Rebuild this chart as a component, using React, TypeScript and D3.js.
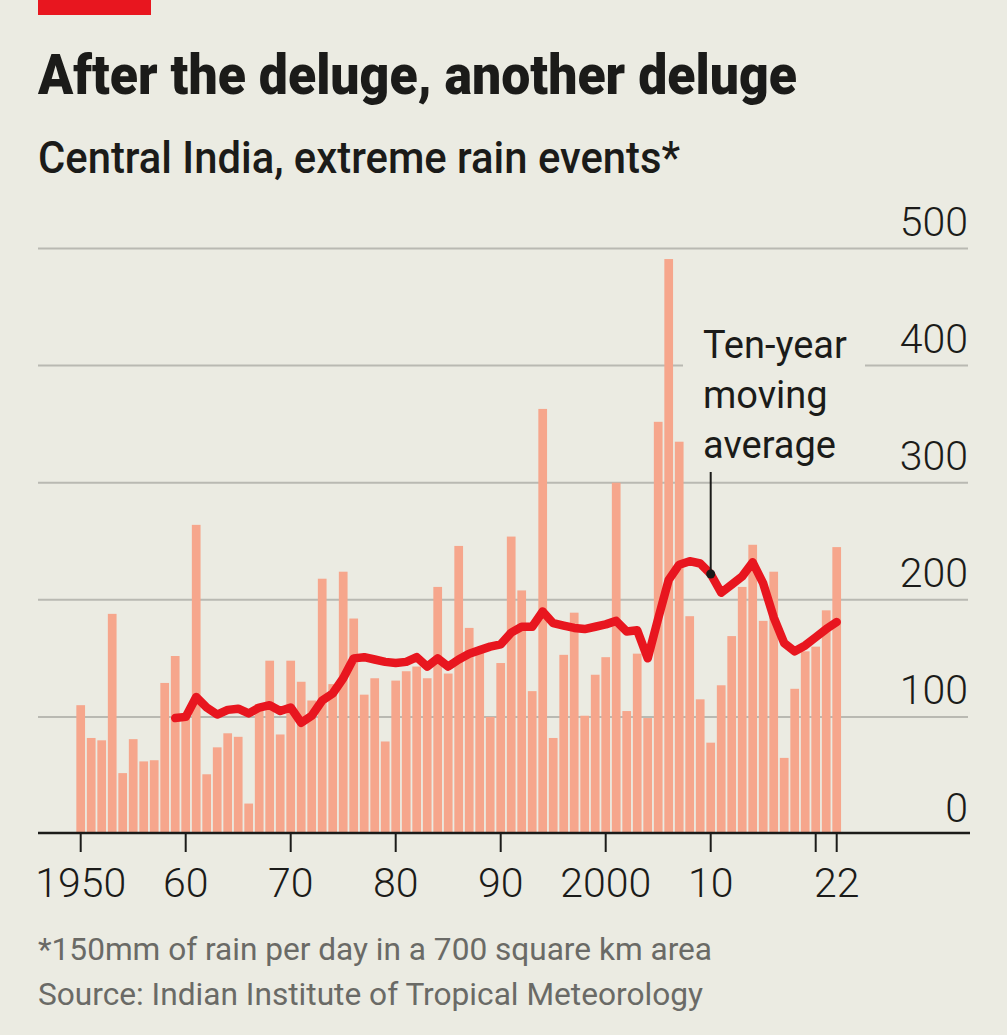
import React, { useEffect } from 'react';
import * as d3 from 'd3';

const years = [
  1950, 1951, 1952, 1953, 1954, 1955, 1956, 1957, 1958, 1959,
  1960, 1961, 1962, 1963, 1964, 1965, 1966, 1967, 1968, 1969,
  1970, 1971, 1972, 1973, 1974, 1975, 1976, 1977, 1978, 1979,
  1980, 1981, 1982, 1983, 1984, 1985, 1986, 1987, 1988, 1989,
  1990, 1991, 1992, 1993, 1994, 1995, 1996, 1997, 1998, 1999,
  2000, 2001, 2002, 2003, 2004, 2005, 2006, 2007, 2008, 2009,
  2010, 2011, 2012, 2013, 2014, 2015, 2016, 2017, 2018, 2019,
  2020, 2021, 2022,
];

const events = [
  110, 82, 80, 188, 52, 81, 62, 63, 129, 152,
  100, 264, 51, 74, 86, 83, 26, 111, 148, 85,
  148, 130, 114, 218, 128, 224, 184, 119, 133, 79,
  131, 139, 143, 133, 211, 137, 246, 176, 158, 100,
  146, 254, 208, 122, 363, 82, 153, 189, 101, 136,
  151, 300, 105, 154, 99, 352, 491, 335, 186, 115,
  78, 127, 169, 211, 247, 182, 224, 65, 124, 156,
  160, 191, 245,
];

const maYears = [
  1959, 1960, 1961, 1962, 1963, 1964, 1965, 1966, 1967, 1968,
  1969, 1970, 1971, 1972, 1973, 1974, 1975, 1976, 1977, 1978,
  1979, 1980, 1981, 1982, 1983, 1984, 1985, 1986, 1987, 1988,
  1989, 1990, 1991, 1992, 1993, 1994, 1995, 1996, 1997, 1998,
  1999, 2000, 2001, 2002, 2003, 2004, 2005, 2006, 2007, 2008,
  2009, 2010, 2011, 2012, 2013, 2014, 2015, 2016, 2017, 2018,
  2019, 2020, 2021, 2022,
];

const movingAvg = [
  99, 100, 117, 108, 102, 106, 107, 103, 108, 110,
  105, 108, 95, 101, 114, 120, 133, 150, 151, 149,
  147, 146, 147, 151, 143, 150, 143, 149, 154, 157,
  160, 162, 172, 177, 177, 190, 180, 178, 176, 175,
  177, 179, 182, 173, 174, 150, 184, 217, 230, 233,
  231, 222, 206, 213, 220, 232, 214, 185, 163, 156,
  161, 168, 175, 181,
];

const yTicks = [0, 100, 200, 300, 400, 500];
const xTicks = [1950, 1960, 1970, 1980, 1990, 2000, 2010, 2020, 2022];
const xTickLabels = ['1950', '60', '70', '80', '90', '2000', '10', '', '22'];

const title = 'After the deluge, another deluge';
const subtitle = 'Central India, extreme rain events*';
const footnote = '*150mm of rain per day in a 700 square km area';
const source = 'Source: Indian Institute of Tropical Meteorology';
const annotationLines = ['Ten-year', 'moving', 'average'];
const annotationYear = 2010;

const BG = '#ebebe2';
const BAR = '#f6a68c';
const RED = '#e8161f';
const INK = '#1b1b19';
const GREY = '#6a6a66';
const GRID = '#b9b9b2';
const FONT = "Roboto, 'Noto Sans', 'Liberation Sans', sans-serif";

export default function App() {
  useEffect(() => {
    document.body.style.margin = '0';
    document.body.style.background = BG;
  }, []);

  const W = 1007;
  const H = 1035;

  const x = d3.scaleLinear().domain([1950, 2022]).range([80.7, 836.7]);
  const xBand = d3
    .scaleBand<number>()
    .domain(years)
    .range([75.45, 841.95])
    .paddingInner(0.17)
    .paddingOuter(0.085);
  const y = d3.scaleLinear().domain([0, 500]).range([834, 248.5]);

  const maData = maYears.map((yr, i) => ({ yr, v: movingAvg[i] }));
  const line = d3
    .line<{ yr: number; v: number }>()
    .x((d) => x(d.yr))
    .y((d) => y(d.v))
    .curve(d3.curveLinear);

  const annIdx = maYears.indexOf(annotationYear);
  const annX = x(annotationYear);
  const annY = y(movingAvg[annIdx]);

  return (
    <svg
      width={W}
      height={H}
      viewBox={`0 0 ${W} ${H}`}
      style={{ position: 'absolute', left: 0, top: 0, display: 'block' }}
      fontFamily={FONT}
    >
      <rect x={0} y={0} width={W} height={H} fill={BG} />
      <rect x={38} y={0} width={113} height={15} fill={RED} />

      <text x={38} y={94} fontSize={55} fontWeight={900} fill={INK} textLength={759} lengthAdjust="spacingAndGlyphs">
        {title}
      </text>
      <text x={38} y={173} fontSize={44} fontWeight={500} fill={INK} textLength={642} lengthAdjust="spacingAndGlyphs">
        {subtitle}
      </text>

      {/* gridlines */}
      {yTicks
        .filter((t) => t > 0)
        .map((t) => (
          <line key={`g${t}`} x1={38} x2={968} y1={y(t)} y2={y(t)} stroke={GRID} strokeWidth={2} />
        ))}

      {/* annotation background knocking out the gridline */}
      <rect x={683} y={322} width={182} height={150} fill={BG} />

      {/* bars */}
      {years.map((yr, i) => (
        <rect
          key={`b${yr}`}
          x={xBand(yr)}
          y={y(events[i])}
          width={xBand.bandwidth()}
          height={y(0) - y(events[i])}
          fill={BAR}
        />
      ))}

      {/* moving average */}
      <path d={line(maData) || ''} fill="none" stroke={RED} strokeWidth={8.5} strokeLinejoin="round" strokeLinecap="round" />

      {/* x axis */}
      <line x1={38} x2={970} y1={833} y2={833} stroke={INK} strokeWidth={2.6} />
      {xTicks.map((t) => (
        <line key={`t${t}`} x1={x(t)} x2={x(t)} y1={833} y2={852} stroke={INK} strokeWidth={2} />
      ))}
      {xTicks.map((t, i) =>
        xTickLabels[i] ? (
          <text key={`xl${t}`} x={x(t)} y={897} fontSize={41} fill={INK} textAnchor="middle" fontWeight={300}>
            {xTickLabels[i]}
          </text>
        ) : null
      )}

      {/* y labels */}
      {yTicks.map((t) => (
        <text key={`yl${t}`} x={968} y={y(t) - 12.5} fontSize={41} fill={INK} textAnchor="end" fontWeight={300}>
          {t}
        </text>
      ))}

      {/* annotation */}
      {annotationLines.map((s, i) => (
        <text key={`a${i}`} x={703} y={358 + i * 50} fontSize={38} fill={INK}>
          {s}
        </text>
      ))}
      <line x1={annX} x2={annX} y1={472} y2={annY} stroke={INK} strokeWidth={2} />
      <circle cx={annX} cy={annY} r={4.5} fill={INK} />

      {/* footnotes */}
      <text x={38} y={960} fontSize={31} fill={GREY} textLength={674} lengthAdjust="spacingAndGlyphs">
        {footnote}
      </text>
      <text x={38} y={1005} fontSize={31} fill={GREY} textLength={665} lengthAdjust="spacingAndGlyphs">
        {source}
      </text>
    </svg>
  );
}
